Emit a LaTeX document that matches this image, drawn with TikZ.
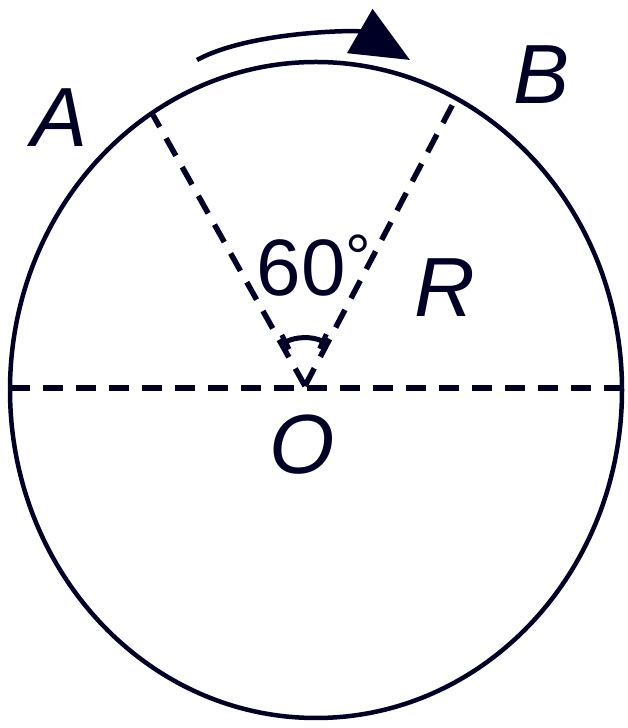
\documentclass[tikz,border=0pt]{standalone}
\usepackage{fontspec}
\setsansfont{Liberation Sans}
\usetikzlibrary{arrows.meta}
\begin{document}
\begin{tikzpicture}[x=1pt,y=1pt,
  stroke/.style={line width=4.5pt, draw=black!85!blue},
  dashline/.style={stroke, line width=5.5pt, dash pattern=on 20pt off 13pt},
  lbl/.style={font=\sffamily\itshape\fontsize{84}{84}\selectfont, text=black!85!blue, inner sep=0pt},
  anglbl/.style={font=\sffamily\fontsize{80}{80}\selectfont, text=black!85!blue, inner sep=0pt}]
\useasboundingbox (0,0) rectangle (627,728);
% circle
\coordinate (C) at (316,338);
\draw[stroke] (C) ellipse [x radius=306pt, y radius=328pt];
% points
\coordinate (O) at (305,342);
\coordinate (A) at (153,613);
\coordinate (B) at (455,628);
\coordinate (L) at (10,340);
\coordinate (Rt) at (622,340);
% dashed lines
\draw[dashline] (L) -- (Rt);
\draw[dashline] (O) -- (A);
\draw[dashline] (O) -- (B);
% angle arc
\draw[stroke, line width=5pt, {Bar[width=16pt]}-{Bar[width=16pt]}] ([shift={(65:48)}]O) arc[start angle=65, end angle=117, radius=48pt];
% labels
\node[lbl] (la) at (60,610) {A};
\node[lbl] (lb) at (542,653) {B};
\node[lbl] (lr) at (445,440) {R};
\node[lbl] (lo) at (302,283) {O};
\node[anglbl] (ang) at (314,462) {60\raisebox{16pt}{\fontsize{64}{64}\selectfont°}};
% direction arrow
\coordinate (s) at (197,668);
\coordinate (t) at (410,668);
\draw[stroke, -{Triangle[length=58pt,width=50pt]}] (s) .. controls (250,697) and (358,698) .. (t);
\end{tikzpicture}
\end{document}
